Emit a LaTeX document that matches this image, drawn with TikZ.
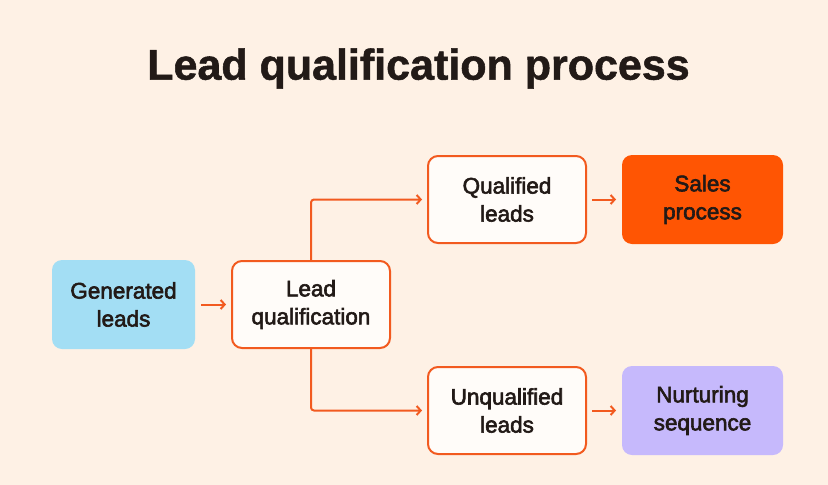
\documentclass[tikz,border=0pt]{standalone}
\usepackage{fontspec}
\setmainfont{Liberation Sans}
\newfontfamily\cardfont[FakeBold=2.6]{Liberation Sans}
\newfontfamily\headfont[FakeBold=1.2]{Liberation Sans Bold}
\usepackage{xcolor}
\usetikzlibrary{arrows.meta,positioning}
\definecolor{paper}{HTML}{FEF1E5}
\definecolor{flame}{HTML}{F25A1F}
\definecolor{salesfill}{HTML}{FF5503}
\definecolor{skyfill}{HTML}{A3DEF4}
\definecolor{lilacfill}{HTML}{C6B9FC}
\definecolor{cardfill}{HTML}{FFFCF9}
\definecolor{ink}{HTML}{221A17}

\begin{document}
\begin{tikzpicture}[
      x=1pt, y=-1pt,
      font=\cardfont\fontsize{22.5}{28}\selectfont,
      text=ink,
      node distance=35pt,
      card/.style={rounded corners=10pt, align=center, fill=cardfill,
                   draw=flame, line width=2pt,
                   minimum width=158pt, minimum height=87pt, inner sep=0pt},
      solid card/.style={card, draw=none, minimum width=161pt,
                         minimum height=89pt},
      src/.style={solid card, fill=skyfill, minimum width=143pt},
      win/.style={solid card, fill=salesfill},
      nurt/.style={solid card, fill=lilacfill},
      arr/.style={-{Straight Barb[length=4pt,width=9pt]}, flame,
                  line width=2pt, shorten <=5pt, shorten >=5pt}
    ]
    \fill[paper] (0,0) rectangle (828,485);

    \node[font=\headfont\fontsize{43}{50}\selectfont] (title)
      at (418.5,68.5) {Lead qualification process};

    \node[src] (gen) at (123.5,304.5) {Generated\\leads};
    \node[card, right=35pt of gen] (qualify) {Lead\\qualification};
    \node[card] (good) at (507,199.5) {Qualified\\leads};
    \node[win, right=34pt of good] (sales) {Sales\\process};
    \node[card] (weak) at (507,410.5) {Unqualified\\leads};
    \node[nurt, right=34pt of weak] (nurture) {Nurturing\\sequence};

    \foreach \a/\b in {gen/qualify, good/sales, weak/nurture}
      \draw[arr] (\a) -- (\b);

    % split after qualification
    \draw[arr, shorten <=0pt, rounded corners=3pt]
      (qualify.north) |- (good.west);
    \draw[arr, shorten <=0pt, rounded corners=3pt]
      (qualify.south) |- (weak.west);
  \end{tikzpicture}
\end{document}
